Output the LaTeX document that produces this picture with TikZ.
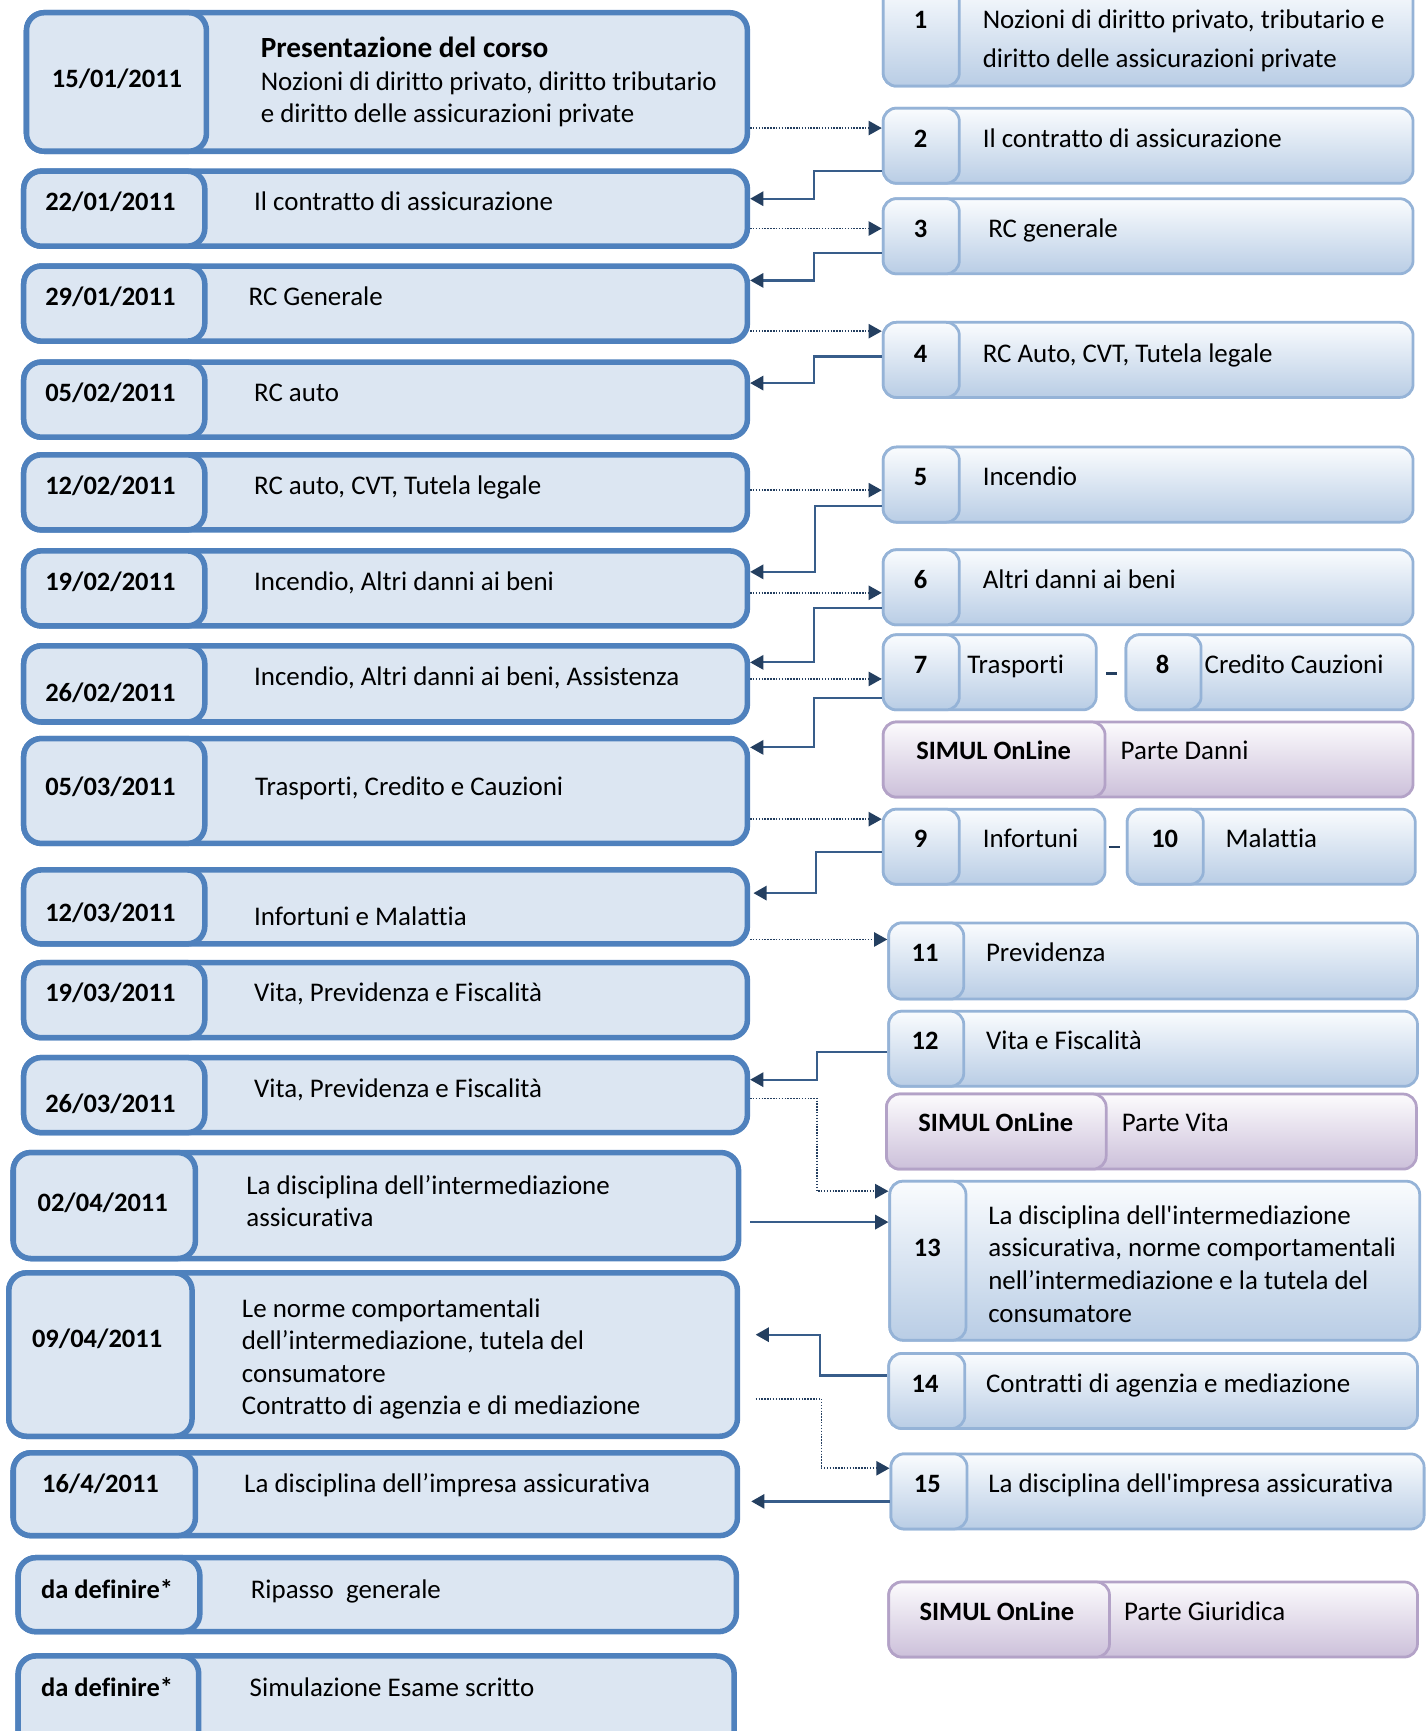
\documentclass[tikz,border=0pt]{standalone}
\usepackage{fontspec}
\setmainfont{Carlito}[Ligatures={TeX,NoCommon}]
\usetikzlibrary{arrows.meta,calc}
\definecolor{lborder}{HTML}{4F81BD}
\definecolor{lfill}{HTML}{DCE6F2}
\definecolor{rborder}{HTML}{95B3D7}
\definecolor{rtop}{HTML}{FAFCFE}
\definecolor{rbot}{HTML}{B9CDE5}
\definecolor{sborder}{HTML}{B3A2C7}
\definecolor{ptop}{HTML}{FCFBFD}
\definecolor{pbot}{HTML}{CCC0DA}
\definecolor{navy}{HTML}{243F60}
\definecolor{solidc}{HTML}{385D8A}
\tikzset{
 lbox/.style={draw=lborder, line width=5pt, fill=lfill, rounded corners=16pt, inner sep=0pt},
 rbox/.style={draw=rborder, line width=2.5pt, top color=rtop, bottom color=rbot, rounded corners=12pt, inner sep=0pt},
 sbox/.style={draw=sborder, line width=2.5pt, top color=ptop, bottom color=pbot, rounded corners=12pt, inner sep=0pt},
 txt/.style={anchor=base west, inner sep=0pt, font=\fontsize{24.4}{30}\selectfont},
 btxt/.style={anchor=base, inner sep=0pt, font=\fontsize{24}{30}\selectfont\bfseries},
 dotarrow/.style={draw=navy, line width=1.5pt, dash pattern=on 1.3pt off 1.3pt, -{Triangle[length=12pt,width=13pt,color=navy]}},
 solarrow/.style={draw=solidc, line width=2pt, -{Triangle[length=12pt,width=13pt,color=navy]}},
 joinline/.style={draw=navy, line width=2pt},
}
\newcommand\mkbox[6]{\node[#1,minimum width={#4-#2},minimum height={#5-#3}] (#6) at ({(#2+#4)/2},{-(#3+#5)/2}) {};}
\newcommand\tx[4]{\node[txt] (#1) at (#2,{-(#3+8)}) {#4};}
\newcommand\bt[4]{\node[btxt] (#1) at (#2,{-(#3+8)}) {#4};}
\begin{document}
\begin{tikzpicture}[x=1pt,y=1pt]
\useasboundingbox (0,0) rectangle (1293,-1568);
\clip (0,0) rectangle (1293,-1568);
% ---------- left boxes ----------
\mkbox{lbox}{24}{11.5}{677}{137}{L1}\mkbox{lbox}{24}{11.5}{187}{137}{D1}
\mkbox{lbox}{21.5}{155}{677}{223}{L2}\mkbox{lbox}{21.5}{155}{185.5}{223}{D2}
\mkbox{lbox}{21.5}{241}{677}{309}{L3}\mkbox{lbox}{21.5}{241}{185.5}{309}{D3}
\mkbox{lbox}{21.5}{328}{677}{396}{L4}\mkbox{lbox}{21.5}{328}{185.5}{396}{D4}
\mkbox{lbox}{21.5}{412}{677}{480}{L5}\mkbox{lbox}{21.5}{412}{185.5}{480}{D5}
\mkbox{lbox}{21.5}{499}{677}{567}{L6}\mkbox{lbox}{21.5}{499}{185.5}{567}{D6}
\mkbox{lbox}{21.5}{585}{677}{654}{L7}\mkbox{lbox}{21.5}{585}{185.5}{654}{D7}
\mkbox{lbox}{21.5}{669}{677}{764}{L8}\mkbox{lbox}{21.5}{669}{185.5}{764}{D8}
\mkbox{lbox}{21.5}{788}{677}{855}{L9}\mkbox{lbox}{21.5}{788}{185.5}{855}{D9}
\mkbox{lbox}{21.5}{872}{677}{940}{L10}\mkbox{lbox}{21.5}{872}{185.5}{940}{D10}
\mkbox{lbox}{21.5}{958}{677}{1026}{L11}\mkbox{lbox}{21.5}{958}{185.5}{1026}{D11}
\mkbox{lbox}{12}{1044}{669}{1140}{L12}\mkbox{lbox}{12}{1044}{177}{1140}{D12}
\mkbox{lbox}{8}{1153}{668}{1301}{L13}\mkbox{lbox}{8}{1153}{174}{1301}{D13}
\mkbox{lbox}{12}{1316}{668}{1391}{L14}\mkbox{lbox}{12}{1316}{177}{1391}{D14}
\mkbox{lbox}{16.5}{1411}{667}{1478}{L15}\mkbox{lbox}{16.5}{1411}{181}{1478}{D15}
\mkbox{lbox}{16.5}{1500}{665}{1610}{L16}\mkbox{lbox}{16.5}{1500}{180}{1610}{D16}
% dates
\bt{d1}{106}{71}{15/01/2011}
\bt{d2}{100}{183}{22/01/2011}
\bt{d3}{100}{269}{29/01/2011}
\bt{d4}{100}{356}{05/02/2011}
\bt{d5}{100}{440}{12/02/2011}
\bt{d6}{100}{527}{19/02/2011}
\bt{d7}{100}{627}{26/02/2011}
\bt{d8}{100}{713}{05/03/2011}
\bt{d9}{100}{827}{12/03/2011}
\bt{d10}{100}{899}{19/03/2011}
\bt{d11}{100}{1000}{26/03/2011}
\bt{d12}{93}{1089}{02/04/2011}
\bt{d13}{88}{1213}{09/04/2011}
\bt{d14}{91}{1344}{16/4/2011}
\bt{d15}{97}{1440}{da definire*}
\bt{d16}{97}{1529}{da definire*}
% topics
\node[txt,font=\fontsize{26.5}{30}\selectfont\bfseries] (t1a) at (236,-52.5) {Presentazione del corso};
\tx{t1b}{236}{74}{Nozioni di diritto privato, diritto tributario}
\tx{t1c}{236}{103}{e diritto delle assicurazioni private}
\tx{t2}{230}{183}{Il contratto di assicurazione}
\tx{t3}{225}{269}{RC Generale}
\tx{t4}{230}{356}{RC auto}
\tx{t5}{230}{440}{RC auto, CVT, Tutela legale}
\tx{t6}{230}{527}{Incendio, Altri danni ai beni}
\tx{t7}{230}{613}{Incendio, Altri danni ai beni, Assistenza}
\tx{t8}{231}{713}{Trasporti, Credito e Cauzioni}
\tx{t9}{230}{830}{Infortuni e Malattia}
\tx{t10}{230}{899}{Vita, Previdenza e Fiscalità}
\tx{t11}{230}{986}{Vita, Previdenza e Fiscalità}
\tx{t12a}{223}{1074}{La disciplina dell’intermediazione}
\tx{t12b}{223}{1103}{assicurativa}
\tx{t13a}{219}{1185}{Le norme comportamentali}
\tx{t13b}{219}{1214}{dell’intermediazione, tutela del}
\tx{t13c}{219}{1244}{consumatore}
\tx{t13d}{219}{1273}{Contratto di agenzia e di mediazione}
\tx{t14}{221}{1344}{La disciplina dell’impresa assicurativa}
\tx{t15}{227}{1440}{Ripasso\ \ generale}
\tx{t16}{226}{1529}{Simulazione Esame scritto}
% ---------- right boxes ----------
\mkbox{rbox}{800}{-15}{1280}{78}{R1}\mkbox{rbox}{800}{-15}{869}{78}{N1}
\mkbox{rbox}{800}{98}{1280}{166}{R2}\mkbox{rbox}{800}{98}{869}{166}{N2}
\mkbox{rbox}{800}{180}{1280}{248}{R3}\mkbox{rbox}{800}{180}{869}{248}{N3}
\mkbox{rbox}{800}{292}{1280}{360}{R4}\mkbox{rbox}{800}{292}{869}{360}{N4}
\mkbox{rbox}{800}{405}{1280}{473}{R5}\mkbox{rbox}{800}{405}{869}{473}{N5}
\mkbox{rbox}{800}{498}{1280}{566}{R6}\mkbox{rbox}{800}{498}{869}{566}{N6}
\mkbox{rbox}{800}{575}{993}{643}{R7}\mkbox{rbox}{800}{575}{869}{643}{N7}
\mkbox{rbox}{1020}{575}{1280}{643}{R8}\mkbox{rbox}{1020}{575}{1088}{643}{N8}
\mkbox{sbox}{800}{654}{1280}{722}{S1}\mkbox{sbox}{800}{654}{1001}{722}{P1}
\mkbox{rbox}{800}{733}{1001}{801}{R9}\mkbox{rbox}{800}{733}{869}{801}{N9}
\mkbox{rbox}{1021}{733}{1282}{801}{R10}\mkbox{rbox}{1021}{733}{1090}{801}{N10}
\mkbox{rbox}{805}{836}{1284}{905}{R11}\mkbox{rbox}{805}{836}{873}{905}{N11}
\mkbox{rbox}{805}{916}{1284}{984}{R12}\mkbox{rbox}{805}{916}{873}{984}{N12}
\mkbox{sbox}{803}{991}{1283}{1059}{S2}\mkbox{sbox}{803}{991}{1002}{1059}{P2}
\mkbox{rbox}{806}{1070}{1286}{1214}{R13}\mkbox{rbox}{806}{1070}{875}{1214}{N13}
\mkbox{rbox}{805}{1226}{1284}{1294}{R14}\mkbox{rbox}{805}{1226}{874}{1294}{N14}
\mkbox{rbox}{807}{1317}{1290}{1385}{R15}\mkbox{rbox}{807}{1317}{876}{1385}{N15}
\mkbox{sbox}{805}{1433}{1284}{1501}{S3}\mkbox{sbox}{805}{1433}{1005}{1501}{P3}
% numbers
\bt{n1}{834}{18}{1}
\bt{n2}{834}{126}{2}
\bt{n3}{834}{207}{3}
\bt{n4}{834}{320}{4}
\bt{n5}{834}{432}{5}
\bt{n6}{834}{525}{6}
\bt{n7}{834}{602}{7}
\bt{n8}{1053}{602}{8}
\bt{p1}{900}{680}{SIMUL OnLine}
\bt{n9}{834}{760}{9}
\bt{n10}{1055}{760}{10}
\bt{n11}{838}{863}{11}
\bt{n12}{838}{943}{12}
\bt{p2}{902}{1017}{SIMUL OnLine}
\bt{n13}{840}{1130}{13}
\bt{n14}{838}{1253}{14}
\bt{n15}{840}{1344}{15}
\bt{p3}{903}{1460}{SIMUL OnLine}
% right texts
\tx{r1a}{890}{18}{Nozioni di diritto privato, tributario e}
\tx{r1b}{890}{53}{diritto delle assicurazioni private}
\tx{r2}{890}{126}{Il contratto di assicurazione}
\tx{r3}{895}{207}{RC generale}
\tx{r4}{890}{320}{RC Auto, CVT, Tutela legale}
\tx{r5}{890}{432}{Incendio}
\tx{r6}{890}{525}{Altri danni ai beni}
\tx{r7}{876}{602}{Trasporti}
\tx{r8}{1091}{602}{Credito Cauzioni}
\tx{s1}{1015}{680}{Parte Danni}
\tx{r9}{890}{760}{Infortuni}
\tx{r10}{1110}{760}{Malattia}
\tx{r11}{893}{863}{Previdenza}
\tx{r12}{893}{943}{Vita e Fiscalità}
\tx{s2}{1016}{1017}{Parte Vita}
\tx{r13a}{895}{1101}{La disciplina dell\textquotesingle intermediazione}
\tx{r13b}{895}{1130}{assicurativa, norme comportamentali}
\tx{r13c}{895}{1160}{nell’intermediazione e la tutela del}
\tx{r13d}{895}{1190}{consumatore}
\tx{r14}{893}{1253}{Contratti di agenzia e mediazione}
\tx{r15}{895}{1344}{La disciplina dell\textquotesingle impresa assicurativa}
\tx{s3}{1018}{1460}{Parte Giuridica}
% joining dashes
\draw[joinline] ([xshift=8pt]R7.east |- 0,-610) -- ([xshift=-7pt]R8.west |- 0,-610);
\draw[joinline] ([xshift=2pt]R9.east |- 0,-767) -- ([xshift=-5pt]R10.west |- 0,-767);
% ---------- dotted connectors (left -> right) ----------
\draw[dotarrow] (L1.east |- 0,-116) -- (R2.west |- 0,-116);
\draw[dotarrow] (L2.east |- 0,-207) -- (R3.west |- 0,-207);
\draw[dotarrow] (L3.east |- 0,-300) -- (R4.west |- 0,-300);
\draw[dotarrow] (L5.east |- 0,-444) -- (R5.west |- 0,-444);
\draw[dotarrow] (L6.east |- 0,-537) -- (R6.west |- 0,-537);
\draw[dotarrow] (L7.east |- 0,-615) -- (R7.west |- 0,-615);
\draw[dotarrow] (L8.east |- 0,-742) -- (R9.west |- 0,-742);
\draw[dotarrow] (L9.east |- 0,-851) -- (R11.west |- 0,-851);
\draw[dotarrow] (L11.east |- 0,-995) -| (740,-1079) -- (R13.west |- 0,-1079);
\draw[dotarrow] ([xshift=14pt]L13.east |- 0,-1267) -| (744,-1330) -- (R15.west |- 0,-1330);
% ---------- solid connectors (right -> left) ----------
\draw[solarrow] (R2.west |- 0,-155) -| (737,-180) -- (L2.east |- 0,-180);
\draw[solarrow] (R3.west |- 0,-229) -| (737,-254) -- (L3.east |- 0,-254);
\draw[solarrow] (R4.west |- 0,-323) -| (737,-347) -- (L4.east |- 0,-347);
\draw[solarrow] (R5.west |- 0,-458) -| (738,-518) -- (L6.east |- 0,-518);
\draw[solarrow] (R6.west |- 0,-551) -| (737,-600) -- (L7.east |- 0,-600);
\draw[solarrow] (R7.west |- 0,-632) -| (737,-677) -- (L8.east |- 0,-677);
\draw[solarrow] (R9.west |- 0,-772) -| (739,-809) -- ([xshift=3pt]L9.east |- 0,-809);
\draw[solarrow] (R12.west |- 0,-953) -| (740,-978) -- (L11.east |- 0,-978);
\draw[solarrow] ([xshift=8pt]L12.east |- 0,-1107) -- (R13.west |- 0,-1107);
\draw[solarrow] (R14.west |- 0,-1246) -| (743,-1209) -- ([xshift=14pt]L13.east |- 0,-1209);
\draw[solarrow] (R15.west |- 0,-1360) -- ([xshift=10pt]L14.east |- 0,-1360);
\end{tikzpicture}
\end{document}
